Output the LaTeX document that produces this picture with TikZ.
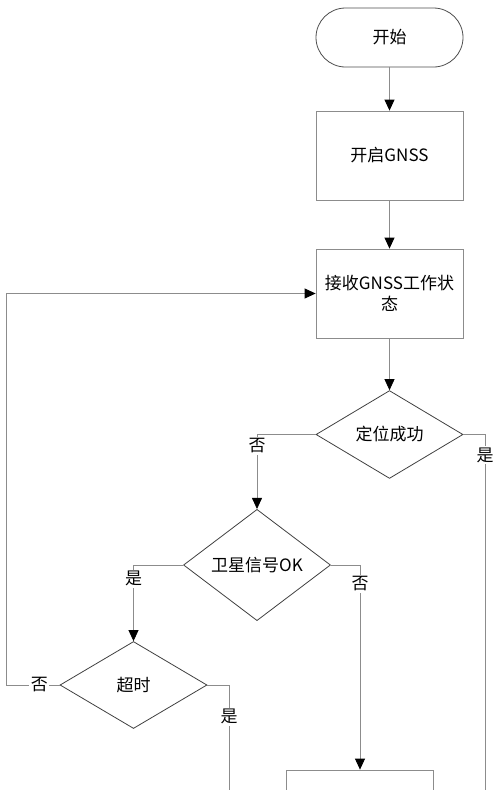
\documentclass[tikz,border=0pt]{standalone}
\usepackage{fontspec}
\setmainfont{Noto Sans CJK SC}
\usetikzlibrary{arrows.meta,shapes.geometric}

\begin{document}
\begin{tikzpicture}[x=1pt,y=-1pt,
  font=\fontsize{17}{21}\selectfont,
  flowline/.style={draw=black!45,line width=0.8pt},
  flowarrow/.style={flowline,-{Triangle[width=10pt,length=11pt,color=black]}},
  procbox/.style={draw=black!45,line width=0.8pt,minimum width=147pt,minimum height=89pt,align=center,inner sep=2pt},
  termbox/.style={draw=black!70,line width=0.8pt,minimum width=147pt,minimum height=59pt,rounded corners=29.5pt},
  decision/.style={diamond,draw=black!75,line width=0.8pt,minimum width=147pt,minimum height=87pt,inner sep=1pt},
  lbl/.style={fill=white,inner sep=1.5pt}]
  \useasboundingbox (0,0) rectangle (500,790);
  \clip (0,0) rectangle (500,790);

  \node[termbox] (start) at (389.5,37.5) {开始};
  \node[procbox] (gnss) at (389.5,155.5) {开启GNSS};
  \node[procbox] (rcv) at (389.5,293.5) {接收GNSS工作状\\态};
  \node[decision] (fix) at (389.5,434.5) {定位成功};
  \node[decision] (sig) at (257,565) {卫星信号OK};
  \node[decision] (tmo) at (133.5,685) {超时};
  \node[procbox] (next) at (360,814.5) {};
  \coordinate (fixend) at (485,800);
  \coordinate (tmoend) at (229,800);

  \draw[flowarrow] (start) -- (gnss);
  \draw[flowarrow] (gnss) -- (rcv);
  \draw[flowarrow] (rcv) -- (fix);

  \draw[flowarrow] (fix.west) -| node[lbl,pos=0.575] {否} (sig.north);
  \draw[flowline] (fix.east) -| node[lbl,pos=0.528] {是} (fixend);

  \draw[flowarrow] (sig.west) -| node[lbl,pos=0.59] {是} (tmo.north);
  \draw[flowarrow] (sig.east) -| node[lbl,pos=0.546] {否} (next.north);

  \draw[flowarrow] (tmo.west) -- node[lbl,pos=0.38] {否} ++(-53,0) |- (rcv.west);
  \draw[flowline] (tmo.east) -| node[lbl,pos=0.638] {是} (tmoend);

\end{tikzpicture}
\end{document}
